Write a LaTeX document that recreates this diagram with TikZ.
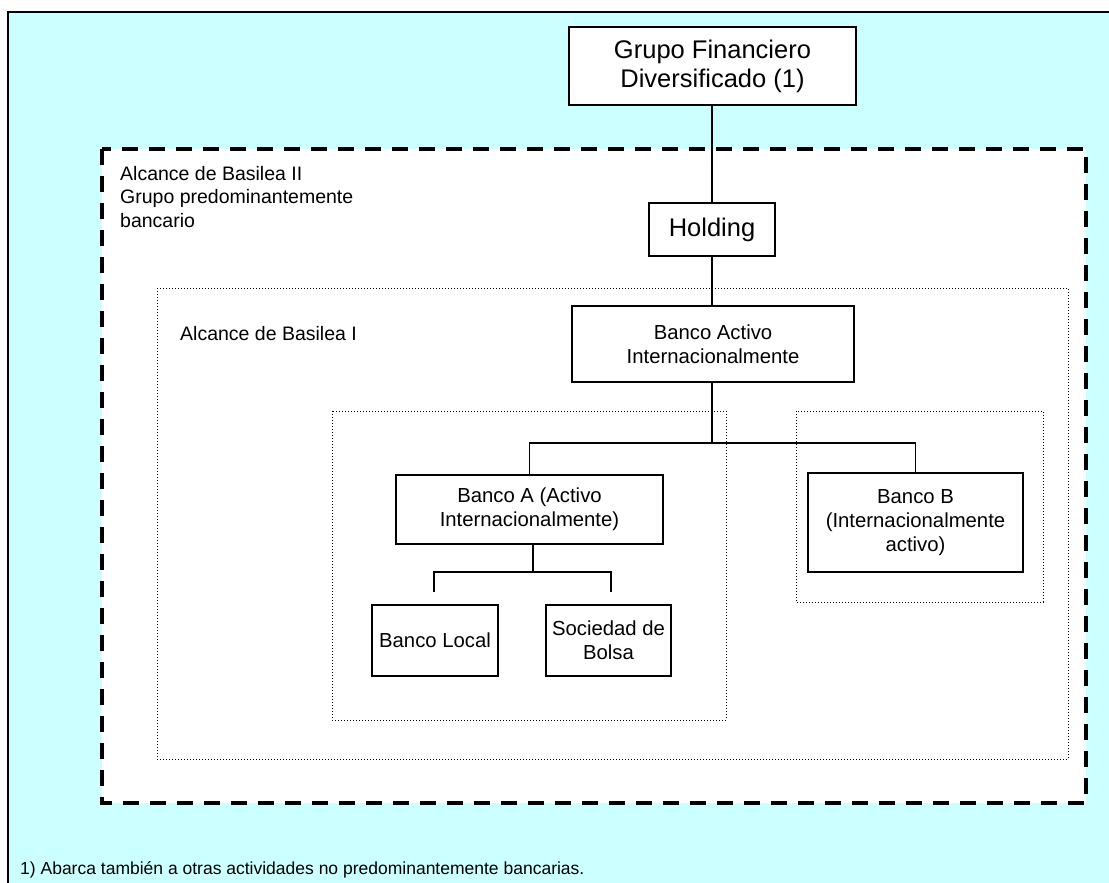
\documentclass[tikz,border=0pt]{standalone}
\usepackage{fontspec}
\setmainfont{Liberation Sans}
\definecolor{bgcyan}{RGB}{204,255,255}
\begin{document}
\begin{tikzpicture}[x=1pt,y=-1pt,
  orgbox/.style={draw=black,line width=1.8pt,fill=white,inner sep=0pt,align=center,
     font=\fontsize{20.3}{24}\selectfont},
  bigbox/.style={orgbox,font=\fontsize{25.5}{29}\selectfont},
  link/.style={draw=black,line width=1.8pt},
  scopedash/.style={draw=black,line width=4pt,dash pattern=on 16pt off 11pt,fill=white},
  scopedot/.style={draw=black,line width=1pt,dash pattern=on 1pt off 2pt},
  lbl/.style={inner sep=0pt,align=left,font=\fontsize{19.5}{23.5}\selectfont},
  note/.style={inner sep=0pt,anchor=west,font=\fontsize{17.5}{21}\selectfont}]
\useasboundingbox (0,0) rectangle (1109,883);
% background frame
\fill[bgcyan] (8,12) rectangle (1109,883);
\draw[line width=2pt] (8,883) -- (8,12) -- (1109,12);
% scopes
\path[scopedash] (102,149) rectangle (1086,803);
\path[scopedot] (157,288) rectangle (1068,759);
\path[scopedot] (332,411) rectangle (726,720);
\path[scopedot] (796,411) rectangle (1043,602);
% labels
\node[lbl,anchor=north west] (lblII) at (120,166) {Alcance de Basilea II\\Grupo predominantemente\\bancario};
\node[lbl,anchor=west] (lblI) at (180,334) {Alcance de Basilea I};
\node[note] (nota) at (20,870) {1) Abarca también a otras actividades no predominantemente bancarias.};
% boxes
\node[bigbox,minimum width=287pt,minimum height=78pt] (grupo) at (712.5,66) {Grupo Financiero\\Diversificado (1)};
\node[bigbox,minimum width=126pt,minimum height=53pt] (holding) at (712,229.5) {Holding};
\node[orgbox,minimum width=282pt,minimum height=76pt] (activo) at (713,344) {Banco Activo\\Internacionalmente};
\node[orgbox,minimum width=267pt,minimum height=69pt] (bancoA) at (529.5,509.5) {Banco A (Activo\\Internacionalmente)};
\node[orgbox,minimum width=215pt,minimum height=99pt] (bancoB) at (915.5,522.5) {Banco B\\(Internacionalmente\\activo)};
\node[orgbox,minimum width=126pt,minimum height=71pt] (local) at (435,640.5) {Banco Local};
\node[orgbox,minimum width=125pt,minimum height=71pt] (bolsa) at (608.5,640.5) {Sociedad de\\Bolsa};
% junction coordinates
\coordinate (j1) at (712,443);
\coordinate (j2) at (533,572);
\coordinate (l1) at (434,592);
\coordinate (l2) at (611,592);
% connectors
\draw[link] (grupo.south -| j1) -- (holding.north -| j1);
\draw[link] (holding.south -| j1) -- (activo.north -| j1);
\draw[link] (activo.south -| j1) -- (j1);
\draw[link] (bancoA.north) |- (j1) -| (bancoB.north);
\draw[link] (j2 |- bancoA.south) -- (j2);
\draw[link] (l1) |- (j2) -| (l2);
\end{tikzpicture}
\end{document}
